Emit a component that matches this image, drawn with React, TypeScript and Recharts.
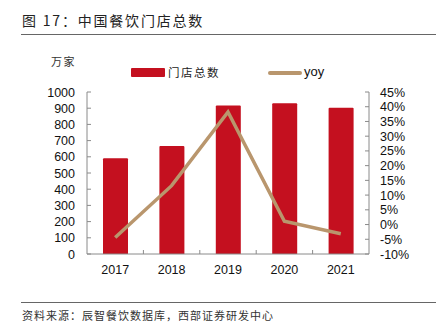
import React from "react";
import { ComposedChart, Bar, Line, XAxis, YAxis, Legend } from "recharts";

const years = ["2017", "2018", "2019", "2020", "2021"];
const stores = [591, 667, 916, 930, 903];
const yoy = [-4.4, 13.2, 38.2, 1.1, -3.1];
const leftTicks = [0, 100, 200, 300, 400, 500, 600, 700, 800, 900, 1000];
const rightTicks = [-10, -5, 0, 5, 10, 15, 20, 25, 30, 35, 40, 45];

const data = years.map((y, i) => ({ year: y, stores: stores[i], yoy: yoy[i] }));

const W = 440;
const H = 329;
const LEFT_W = 87;
const RIGHT_W = 71;
const LEGEND_H = 20;
const MARGIN = { top: 92 - LEGEND_H, right: 0, bottom: 45, left: 0 };
const BAND = (W - LEFT_W - RIGHT_W) / years.length;

const RED = "#C4101F";
const TAN = "#B9966D";
const AXIS = "#8a8a8a";
const CJK = '"Noto Sans CJK SC", sans-serif';
const LATIN = '"Liberation Sans", Arial, sans-serif';

const LeftTick = (props: any) => {
  const { x, y, payload } = props;
  return (
    <g>
      <line x1={x} x2={x + 4} y1={y} y2={y} stroke={AXIS} strokeWidth={1} />
      <text x={x - 12} y={y} dy={4.5} textAnchor="end" fontSize={12.5} fontFamily={LATIN} fill="#111">
        {payload.value}
      </text>
    </g>
  );
};

const RightTick = (props: any) => {
  const { x, y, payload } = props;
  return (
    <g>
      <line x1={x - 4} x2={x} y1={y} y2={y} stroke={AXIS} strokeWidth={1} />
      <text x={x + 11} y={y} dy={4.5} textAnchor="start" fontSize={12.5} fontFamily={LATIN} fill="#111">
        {`${payload.value}%`}
      </text>
    </g>
  );
};

const BottomTick = (props: any) => {
  const { x, y, payload, index } = props;
  return (
    <g>
      {index < years.length - 1 && (
        <line x1={x + BAND / 2} x2={x + BAND / 2} y1={y} y2={y - 4} stroke={AXIS} strokeWidth={1} />
      )}
      <text x={x} y={y + 20} textAnchor="middle" fontSize={12.5} fontFamily={LATIN} fill="#111">
        {payload.value}
      </text>
    </g>
  );
};

const LegendContent = () => (
  <div style={{ position: "relative", width: W, height: LEGEND_H }}>
    <div style={{ position: "absolute", left: 131, top: 5, width: 34, height: 9, background: RED, borderRadius: 1 }} />
    <div style={{ position: "absolute", left: 168, top: 1, fontSize: 11.5, letterSpacing: 1.5, fontFamily: CJK, color: "#222", lineHeight: "16px" }}>
      门店总数
    </div>
    <div style={{ position: "absolute", left: 268, top: 8, width: 34, height: 3.5, background: TAN, borderRadius: 2 }} />
    <div style={{ position: "absolute", left: 304, top: 1, fontSize: 13, fontFamily: LATIN, color: "#111", lineHeight: "16px" }}>
      yoy
    </div>
  </div>
);

export default function App() {
  return (
    <div style={{ position: "absolute", left: 0, top: 0, width: W, height: H, background: "#fff", overflow: "hidden" }}>
      <div style={{ position: "absolute", left: 22, top: 10, fontSize: 14, letterSpacing: 1.8, fontFamily: CJK, color: "#222", lineHeight: "20px" }}>
        图 17：中国餐饮门店总数
      </div>
      <div style={{ position: "absolute", left: 21, top: 34, width: 415, height: 1, background: "#666" }} />
      <div style={{ position: "absolute", left: 51, top: 53, fontSize: 11, letterSpacing: 1.5, fontFamily: CJK, color: "#333", lineHeight: "16px" }}>
        万家
      </div>
      <ComposedChart width={W} height={H} data={data} margin={MARGIN} barCategoryGap="0%">
        <XAxis
          dataKey="year"
          height={30}
          tickLine={false}
          tickSize={0}
          tickMargin={0}
          tick={BottomTick}
          stroke={AXIS}
          interval={0}
        />
        <YAxis
          yAxisId="left"
          orientation="left"
          width={LEFT_W}
          domain={[0, 1000]}
          ticks={leftTicks}
          tickLine={false}
          tickSize={0}
          tickMargin={0}
          tick={LeftTick}
          stroke={AXIS}
          interval={0}
        />
        <YAxis
          yAxisId="right"
          orientation="right"
          width={RIGHT_W}
          domain={[-10, 45]}
          ticks={rightTicks}
          tickLine={false}
          tickSize={0}
          tickMargin={0}
          tick={RightTick}
          stroke={AXIS}
          interval={0}
        />
        <Legend verticalAlign="top" height={LEGEND_H} wrapperStyle={{ top: 63, left: 0, width: W }} content={LegendContent} />
        <Bar yAxisId="left" dataKey="stores" name="门店总数" fill={RED} barSize={25} isAnimationActive={false} radius={[1, 1, 0, 0]} />
        <Line
          yAxisId="right"
          dataKey="yoy"
          name="yoy"
          stroke={TAN}
          strokeWidth={3.5}
          dot={false}
          activeDot={false}
          type="linear"
          isAnimationActive={false}
        />
      </ComposedChart>
      <div style={{ position: "absolute", left: 21, top: 302, width: 415, height: 1, background: "#666" }} />
      <div style={{ position: "absolute", left: 22, top: 307, fontSize: 11, letterSpacing: 1, fontFamily: CJK, color: "#333", lineHeight: "16px" }}>
        资料来源：辰智餐饮数据库，西部证券研发中心
      </div>
    </div>
  );
}
